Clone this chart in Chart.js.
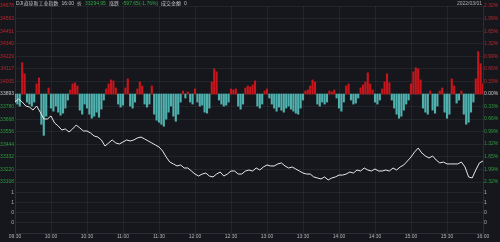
<!DOCTYPE html>
<html>
<head>
<meta charset="utf-8">
<script src="https://cdn.jsdelivr.net/npm/chart.js@4"></script>
<style>
  html, body { margin: 0; padding: 0; background: #15171c; }
  #wrap { position: relative; width: 500px; height: 242px; }
  #head { position: absolute; left: 16px; top: 0; font-size: 5px; line-height: 6px;
          font-family: "Liberation Sans", "Noto Sans CJK SC", sans-serif; color: #c4c4c4; white-space: nowrap; z-index: 2; }
  #head span { margin-right: 3px; }
  #head .dn { color: #35a848; }
  #date { position: absolute; right: 18px; top: 0; font-size: 5px; line-height: 6px;
          font-family: "Liberation Sans", sans-serif; color: #b0b0b0; z-index: 2; }
</style>
</head>
<body>
<div id="wrap">
  <div id="head"><span>DJI道琼斯工业指数</span><span>16:00</span><span>价</span><span class="dn">33294.95</span><span>涨跌</span><span class="dn">-597.65(-1.76%)</span><span>成交金额</span><span>0</span></div>
  <div id="date">2022/03/01</div>
  <canvas id="c"></canvas>
</div>
<script>
// axis ticks
const timeTicks = [0, 30, 60, 90, 120, 150, 180, 210, 240, 270, 300, 330, 360, 390];
const timeLabels = ['09:30', '10:00', '10:30', '11:00', '11:30', '12:00', '12:30',
                    '13:00', '13:30', '14:00', '14:30', '15:00', '15:30', '16:00'];
const priceTicks = [34678, 34563, 34451, 34340, 34229, 34117, 34005, 33893,
                    33780, 33668, 33556, 33444, 33332, 33220, 33108];
const pctTicks = [2.32, 1.99, 1.65, 1.32, 0.99, 0.66, 0.33, 0,
                  -0.33, -0.66, -0.99, -1.32, -1.65, -1.99, -2.32];
const volTicks = [0.8, 0.6, 0.4, 0.2];
const volLabels = ['1', '1', '0', '0'];
const prevClose = 33893;

// index, one value every 3 minutes from 09:30
const priceVals = [
  33822, 33848, 33822, 33786, 33777, 33750, 33786, 33732, 33670, 33670,
  33697, 33634, 33608, 33572, 33581, 33554, 33581, 33616, 33590, 33563,
  33563, 33545, 33518, 33509, 33483, 33429, 33456, 33483, 33456, 33447,
  33465, 33483, 33474, 33483, 33501, 33509, 33492, 33474, 33456, 33438,
  33420, 33385, 33331, 33286, 33269, 33251, 33260, 33233, 33233, 33206,
  33179, 33161, 33179, 33188, 33161, 33153, 33179, 33197, 33161, 33179,
  33206, 33206, 33179, 33179, 33206, 33215, 33206, 33233, 33215, 33242,
  33260, 33251, 33251, 33269, 33278, 33251, 33233, 33242, 33224, 33206,
  33188, 33179, 33179, 33153, 33144, 33135, 33153, 33126, 33144, 33153,
  33170, 33170, 33179, 33197, 33188, 33215, 33206, 33233, 33215, 33206,
  33224, 33206, 33206, 33215, 33206, 33233, 33215, 33242, 33260, 33295,
  33331, 33376, 33411, 33367, 33340, 33322, 33340, 33304, 33278, 33286,
  33269, 33269, 33269, 33269, 33286, 33242, 33153, 33144, 33215, 33278,
  33295
];

// red / cyan strength bars around the previous close, one every 2 minutes
const strengthVals = [
  -72, -90, -108, 279, 180, -72, -90, -108, -72, 90,
  144, -270, -369, -198, 54, -126, -153, -108, -162, -189,
  -171, -126, -54, 36, 90, 99, 72, -144, -180, -90,
  -126, -180, -216, -198, -162, -207, -135, -54, 45, 90,
  126, 117, 54, -90, -117, -99, 54, 135, -108, -126,
  -72, 45, 108, 72, -90, -117, -90, 72, -180, -234,
  -252, -270, -288, -225, -162, -108, -198, -243, -180, -72,
  27, -36, 18, -72, -90, 45, -72, -108, -99, -162,
  -171, -126, 108, 225, 198, -54, -90, -108, -99, -72,
  45, 36, 45, -108, -135, -90, 54, 72, 63, 81,
  117, -108, -126, -90, 27, 45, -36, -90, -126, -153,
  -117, -144, -162, -126, -108, -135, -153, -171, -180, -126,
  -54, 27, 36, 72, 126, 108, -90, -108, -72, -90,
  -72, 27, 18, 36, -36, -126, -153, -72, 72, 90,
  -54, -90, -81, -36, 54, 81, 108, 189, 90, 36,
  -72, -90, -54, 45, 108, 180, 99, -54, -126, -180,
  -216, -198, -144, -90, -54, 90, 198, 234, 225, 126,
  -126, -162, -180, 27, -144, -171, -108, 27, 54, -162,
  -216, -180, 135, 72, -81, -54, 27, -180, -270, -252,
  -162, -72, 135, 378, 270, 90
];

const RED = '#c4161c';
const CYAN = '#4fb0ae';
const GRID = 'rgba(255,255,255,0.06)';
const tickFont = { size: 5, family: '"Liberation Sans", sans-serif' };

function upDownColor(v, mid) {
  if (Math.abs(v - mid) < 1e-6) return '#c8c8c8';
  return v > mid ? '#b8282d' : '#2f9c3f';
}

const fixedTicks = (list) => (s) => { s.ticks = list.map(v => ({ value: v })); };

new Chart(document.getElementById('c'), {
  type: 'bar',
  data: {
    datasets: [
      {
        type: 'line',
        data: priceVals.map((v, i) => ({ x: i * 3, y: v })),
        yAxisID: 'y',
        borderColor: '#e8e8e8',
        borderWidth: 1,
        pointRadius: 0,
        tension: 0,
        order: 0
      },
      {
        type: 'bar',
        data: strengthVals.map((v, i) => ({ x: i * 2, y: [prevClose, prevClose + v] })),
        yAxisID: 'y',
        backgroundColor: strengthVals.map(v => v > 0 ? RED : CYAN),
        barThickness: 1.5,
        order: 1
      }
    ]
  },
  options: {
    responsive: true,
    maintainAspectRatio: false,
    animation: false,
    layout: { padding: { top: 6, bottom: 0, left: 0, right: 0 } },
    plugins: { legend: { display: false }, tooltip: { enabled: false } },
    scales: {
      x: {
        type: 'linear', min: 0, max: 390, offset: false,
        afterBuildTicks: fixedTicks(timeTicks),
        afterFit: (s) => { s.height = 9; },
        grid: { color: GRID, drawTicks: false, offset: false },
        border: { color: '#2a2d35' },
        ticks: {
          font: tickFont, color: '#b4b4b4', padding: 1, maxRotation: 0, autoSkip: false,
          callback: (v, i) => timeLabels[i]
        }
      },
      y: {
        position: 'left', stack: 'L', stackWeight: 176, weight: 1,
        min: 33108, max: 34678,
        afterBuildTicks: fixedTicks(priceTicks),
        afterFit: (s) => { s.width = 15; },
        grid: { color: GRID, drawTicks: false },
        border: { color: '#2a2d35' },
        ticks: {
          font: tickFont, padding: 1, autoSkip: false,
          color: (c) => upDownColor(c.tick.value, prevClose),
          callback: (v) => String(v)
        }
      },
      yVol: {
        position: 'left', stack: 'L', stackWeight: 51, weight: 0,
        min: 0, max: 1,
        afterBuildTicks: fixedTicks(volTicks),
        afterFit: (s) => { s.width = 15; },
        grid: { color: GRID, drawTicks: false },
        border: { color: '#2a2d35' },
        ticks: { font: tickFont, padding: 1, autoSkip: false, color: '#b4b4b4',
                 callback: (v, i) => volLabels[i] }
      },
      yPct: {
        position: 'right', stack: 'R', stackWeight: 176, weight: 0,
        min: -2.32, max: 2.32,
        afterBuildTicks: fixedTicks(pctTicks),
        afterFit: (s) => { s.width = 17; },
        grid: { display: false, drawTicks: false },
        border: { color: '#2a2d35' },
        ticks: {
          font: tickFont, padding: 1, autoSkip: false,
          color: (c) => upDownColor(c.tick.value, 0),
          callback: (v) => Math.abs(v).toFixed(2) + '%'
        }
      },
      yVolR: {
        position: 'right', stack: 'R', stackWeight: 51, weight: 1,
        min: 0, max: 1,
        afterBuildTicks: fixedTicks(volTicks),
        afterFit: (s) => { s.width = 17; },
        grid: { display: false, drawTicks: false },
        border: { color: '#2a2d35' },
        ticks: { font: tickFont, padding: 1, autoSkip: false, color: '#b4b4b4',
                 callback: (v, i) => volLabels[i] }
      }
    }
  }
});
</script>
</body>
</html>
